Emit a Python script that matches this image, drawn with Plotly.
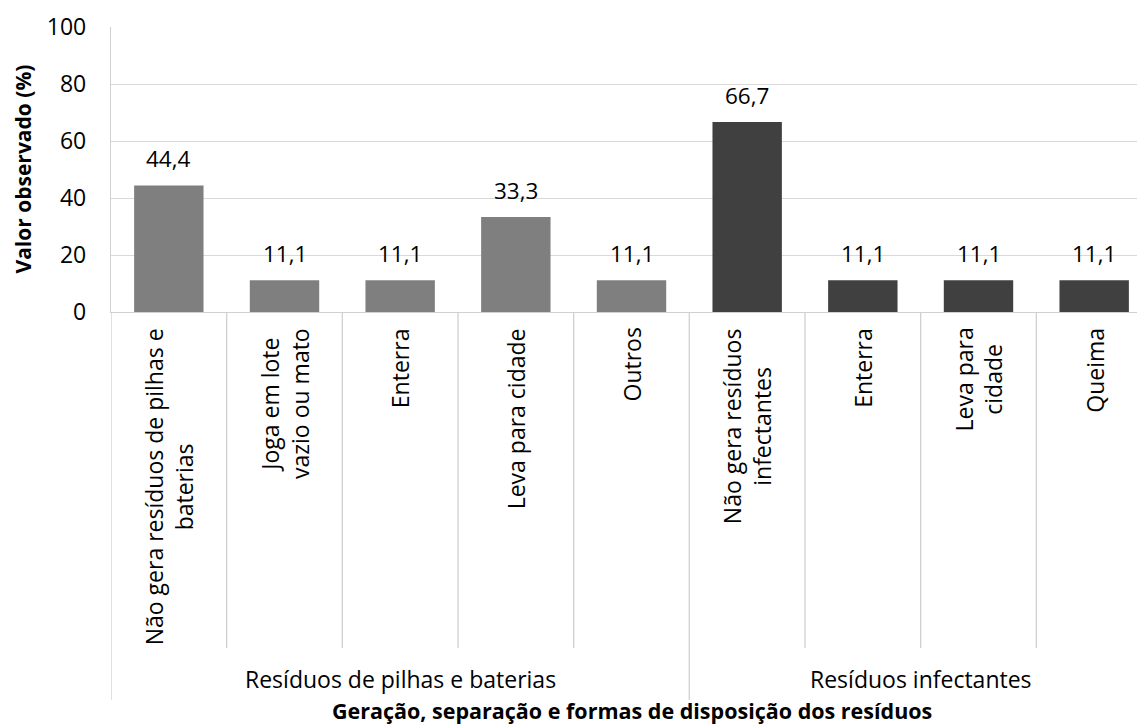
import plotly.graph_objects as go

categories = [
    "Não gera resíduos de pilhas e<br>baterias",
    "Joga em lote<br>vazio ou mato",
    "Enterra",
    "Leva para cidade",
    "Outros",
    "Não gera resíduos<br>infectantes",
    "Enterra",
    "Leva para<br>cidade",
    "Queima",
]
values = [44.4, 11.1, 11.1, 33.3, 11.1, 66.7, 11.1, 11.1, 11.1]
value_labels = ["44,4", "11,1", "11,1", "33,3", "11,1", "66,7", "11,1", "11,1", "11,1"]
groups = ["Resíduos de pilhas e baterias", "Resíduos infectantes"]
group_sizes = [5, 4]
group_colors = ["#7f7f7f", "#404040"]

FONT = "Open Sans, Noto Sans, sans-serif"
# the chart is wider than the window: its right part is cropped, as in the reference
W, H = 1160, 724
ML, MR, MT, MB = 111, 8, 27, 412
PH = H - MT - MB

x_idx = list(range(len(values)))
colors = []
for g, n in enumerate(group_sizes):
    colors += [group_colors[g]] * n

fig = go.Figure()
fig.add_trace(go.Bar(x=x_idx, y=values, width=0.6, marker=dict(color=colors, line=dict(width=0)),
                     hoverinfo="skip"))

def py(pix):
    return (MT + PH - pix) / PH

annotations = []
for i, (v, t) in enumerate(zip(values, value_labels)):
    annotations.append(dict(x=i, y=v, xref="x", yref="y", text=t, showarrow=False,
                            yanchor="bottom", yshift=9, font=dict(size=22.5, color="#000", family=FONT)))
for i, c in enumerate(categories):
    annotations.append(dict(x=i, y=0, xref="x", yref="paper", text=c, showarrow=False,
                            textangle=-90, yanchor="top", xanchor="center", align="center", yshift=-14,
                            font=dict(size=23, color="#000", family=FONT)))
start = 0
for g, n in zip(groups, group_sizes):
    cx = start + (n - 1) / 2
    annotations.append(dict(x=cx, y=py(679), xref="x", yref="paper", text=g, showarrow=False,
                            yanchor="middle", borderpad=0, font=dict(size=23, color="#000", family=FONT)))
    start += n
annotations.append(dict(x=0.5, y=py(695), xref="paper", yref="paper",
                        text="<b>Geração, separação e formas de disposição dos resíduos</b>",
                        showarrow=False, yanchor="top", xanchor="center", borderpad=0,
                        font=dict(size=21.5, color="#000", family=FONT)))
annotations.append(dict(x=(22 - ML) / (W - ML - MR), y=0.5, xref="paper", yref="paper",
                        text="<b>Valor observado (%)</b>", textangle=-90,
                        showarrow=False, yanchor="middle", xanchor="center",
                        font=dict(size=21, color="#000", family=FONT)))

shapes = []
sep_color = "#d0d0d0"
boundaries = [k + 0.5 for k in range(len(values) - 1)]
group_bounds = []
acc = 0
for n in group_sizes[:-1]:
    acc += n
    group_bounds.append(acc - 0.5)
for b in boundaries:
    y1 = py(700) if b in group_bounds else py(648)
    shapes.append(dict(type="line", xref="x", yref="paper", x0=b, x1=b, y0=0, y1=y1,
                       line=dict(color=sep_color, width=1.3)))
shapes.append(dict(type="line", xref="x", yref="paper", x0=-0.5, x1=-0.5, y0=0, y1=py(700),
                   line=dict(color=sep_color, width=1.3)))

fig.update_layout(
    width=W, height=H,
    margin=dict(l=ML, r=MR, t=MT, b=MB),
    paper_bgcolor="white", plot_bgcolor="white",
    showlegend=False,
    annotations=annotations, shapes=shapes,
    xaxis=dict(range=[-0.5, len(values) - 0.5], showticklabels=False, showgrid=False,
               zeroline=False, showline=True, linecolor=sep_color, linewidth=1.3, ticks=""),
    yaxis=dict(range=[0, 100], dtick=20, showgrid=True, gridcolor="#d9d9d9", gridwidth=1.3,
               zeroline=False, showline=True, linecolor=sep_color, linewidth=1.3,
               ticks="", ticklabelstandoff=19,
               tickfont=dict(size=23, color="#000", family=FONT)),
)

fig.write_html("out.html", config={"displayModeBar": False},
               post_script="document.body.style.margin='0';document.body.style.overflow='hidden';")
